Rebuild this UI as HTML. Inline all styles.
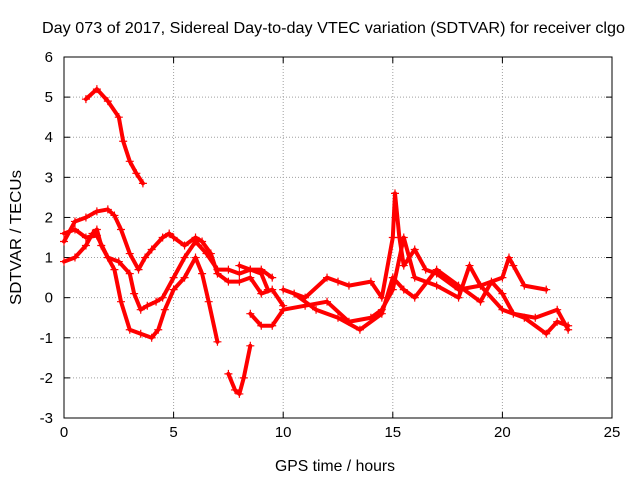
<!DOCTYPE html>
<html><head><meta charset="utf-8"><style>
body{margin:0;background:#fff;}
svg text{font-family:"Liberation Sans",sans-serif;font-size:15px;fill:#000;}
</style></head><body>
<svg id="chart" width="640" height="480" xmlns="http://www.w3.org/2000/svg">
<rect x="0" y="0" width="640" height="480" fill="#fff"/>
<g id="grid"></g>
<g id="axes"></g>
<g id="marks"></g>
<text x="42" y="33" textLength="583" lengthAdjust="spacingAndGlyphs" style="font-size:16px">Day 073 of 2017, Sidereal Day-to-day VTEC variation (SDTVAR) for receiver clgo</text>
<text x="275" y="471" textLength="120" lengthAdjust="spacingAndGlyphs" style="font-size:16px">GPS time / hours</text>
<text transform="translate(21,305) rotate(-90)" textLength="135" lengthAdjust="spacingAndGlyphs" style="font-size:16px">SDTVAR / TECUs</text>
</svg>
<script>
const xTicks=[0,5,10,15,20,25];
const yTicks=[-3,-2,-1,0,1,2,3,4,5,6];
const seriesA=[[1,4.95],[1.5,5.2],[2,4.9],[2.5,4.5],[2.7,3.9],[3,3.4],[3.3,3.1],[3.6,2.85]];
const seriesB=[[0,1.4],[0.5,1.9],[1,2.0],[1.5,2.15],[2,2.2],[2.3,2.05],[2.6,1.7],[3,1.1],[3.4,0.7],[3.7,1.0],[4,1.2],[4.5,1.5],[4.8,1.6],[5,1.5],[5.5,1.3],[6,1.5],[6.3,1.4],[6.7,1.1],[7,0.6],[7.5,0.4],[8,0.4],[8.5,0.5],[9,0.1],[9.5,0.2],[10,-0.2]];
const seriesC=[[0,0.9],[0.5,1.0],[1,1.3],[1.3,1.6],[1.5,1.7],[1.7,1.3],[2,1.0],[2.5,0.9],[3,0.6],[3.2,0.1],[3.5,-0.3],[3.8,-0.2],[4.2,-0.1],[4.5,0.0],[5,0.5],[5.5,1.0],[6,1.4],[6.5,1.1],[7,0.7],[7.5,0.7],[8,0.6],[8.5,0.7],[9,0.6],[9.3,0.2]];
const seriesD=[[0,1.6],[0.5,1.7],[1,1.5],[1.5,1.55],[2,1.0],[2.3,0.7],[2.6,-0.1],[3,-0.8],[3.5,-0.9],[4,-1.0],[4.3,-0.8],[4.6,-0.3],[5,0.2],[5.5,0.5],[6,1.0],[6.3,0.6],[6.6,-0.1],[7,-1.1]];
const seriesE=[[7.5,-1.9],[7.8,-2.3],[8,-2.4],[8.2,-2.0],[8.5,-1.2]];
const seriesF=[[8,0.8],[8.5,0.7],[9,0.7],[9.5,0.5]];
const seriesF2=[[8.5,-0.4],[9,-0.7],[9.5,-0.7],[10,-0.3]];
const seriesG=[[10,0.2],[11,0.0],[12,0.5],[12.5,0.4],[13,0.3],[14,0.4],[14.5,0.0],[15,1.5],[15.1,2.6],[15.3,1.5],[15.5,0.8],[16,1.2],[16.5,0.7],[17,0.6],[18,0.2],[19,0.3],[20,0.5],[20.3,1.0],[20.5,0.8],[21,0.3],[22,0.2]];
const seriesH=[[10,-0.3],[11,-0.2],[12,-0.1],[13,-0.6],[14,-0.5],[14.5,-0.3],[15,0.2],[15.5,1.5],[16,0.5],[17,0.3],[18,0.0],[18.5,0.8],[19,0.3],[20,-0.3],[21,-0.5],[22,-0.9],[22.5,-0.6],[23,-0.7]];
const seriesI=[[10.5,0.1],[11.5,-0.3],[12.5,-0.5],[13.5,-0.8],[14.5,-0.4],[15,0.5],[15.5,0.2],[16,0.0],[17,0.7],[18,0.3],[19,-0.1],[19.5,0.4],[20,0.1],[20.5,-0.4],[21.5,-0.5],[22.5,-0.3],[23,-0.8]];
const allSeries=[seriesA,seriesB,seriesC,seriesD,seriesE,seriesF,seriesF2,seriesG,seriesH,seriesI];
const L=64,R=612,T=57,B=418,xmin=0,xmax=25,ymin=-3,ymax=6;
const X=v=>L+(v-xmin)/(xmax-xmin)*(R-L);
const Y=v=>B-(v-ymin)/(ymax-ymin)*(B-T);
const NS='http://www.w3.org/2000/svg';
function mk(tag,attrs,parent){const e=document.createElementNS(NS,tag);for(const k in attrs)e.setAttribute(k,attrs[k]);parent.appendChild(e);return e;}
const grid=document.getElementById('grid'),axes=document.getElementById('axes'),marks=document.getElementById('marks');
xTicks.forEach(t=>{
  if(t>xmin&&t<xmax){const g=mk('line',{x1:X(t),x2:X(t),y1:T,y2:B,stroke:'#a0a0a0','stroke-dasharray':'1,2'},grid);
  
  }
  mk('line',{x1:X(t),x2:X(t),y1:B,y2:B-6,stroke:'#000'},axes);
  mk('line',{x1:X(t),x2:X(t),y1:T,y2:T+6,stroke:'#000'},axes);
  const tx=mk('text',{x:X(t),y:B+19,'text-anchor':'middle'},axes);tx.textContent=t;
  
  
});
yTicks.forEach(t=>{
  if(t>ymin&&t<ymax){const g=mk('line',{x1:L,x2:R,y1:Y(t),y2:Y(t),stroke:'#a0a0a0','stroke-dasharray':'1,2'},grid);
  
  }
  mk('line',{x1:L,x2:L+6,y1:Y(t),y2:Y(t),stroke:'#000'},axes);
  mk('line',{x1:R,x2:R-6,y1:Y(t),y2:Y(t),stroke:'#000'},axes);
  const tx=mk('text',{x:L-11,y:Y(t)+5,'text-anchor':'end'},axes);tx.textContent=t;
  
  
});
const frame=mk('rect',{x:L,y:T,width:R-L,height:B-T,fill:'none',stroke:'#000'},axes);


allSeries.forEach((s,i)=>{
  const g=mk('g',{},marks);
  
  
  mk('polyline',{points:s.map(p=>X(p[0])+','+Y(p[1])).join(' '),fill:'none',stroke:'#f00','stroke-width':4,'stroke-linejoin':'round','stroke-linecap':'round'},g);
  s.forEach(p=>{
    const m=mk('path',{d:`M${X(p[0])-4},${Y(p[1])}h8M${X(p[0])},${Y(p[1])-4}v8`,stroke:'#f00','stroke-width':1.2},g);
    
    
  });
});
</script>
</body></html>
